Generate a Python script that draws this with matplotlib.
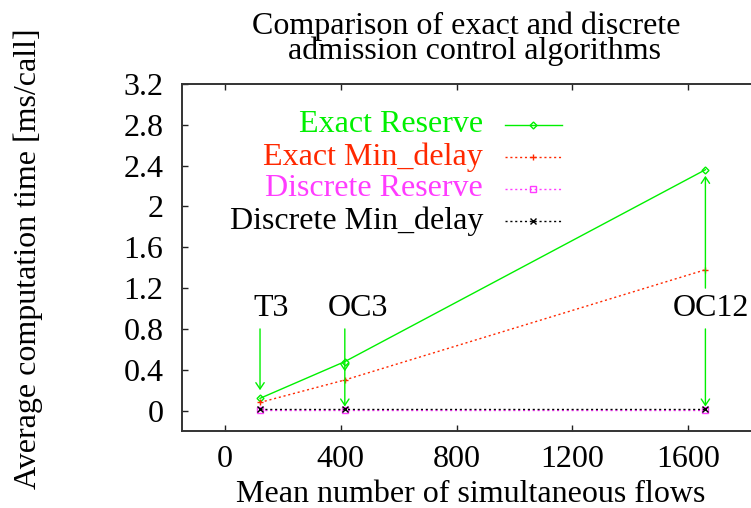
import matplotlib
matplotlib.use("Agg")
import matplotlib.pyplot as plt

plt.rcParams['font.family'] = ['Liberation Serif', 'DejaVu Serif']

# data: link types and mean number of flows
links = ["T3", "OC3", "OC12"]
flows = [121, 414, 1660]

exact_reserve = [0.12, 0.48, 2.36]
exact_min_delay = [0.08, 0.30, 1.38]
discrete_reserve = [0.01, 0.01, 0.01]
discrete_min_delay = [0.012, 0.012, 0.012]

series_names = ["Exact Reserve", "Exact Min_delay", "Discrete Reserve", "Discrete Min_delay"]
series_values = [exact_reserve, exact_min_delay, discrete_reserve, discrete_min_delay]

colors = ["#00f000", "#ff2800", "#ff3cff", "#000000"]
styles = ["-", (0, (1.5, 2)), (0, (1.5, 2)), (0, (1.5, 2))]
markers = ["D", "+", "s", "x"]
msizes = [3.5, 5, 4.5, 4.5]

FS = 23
W, H = 751, 508
fig = plt.figure(figsize=(W / 100, H / 100), dpi=100)

# axes box in pixels (right border is cut off by the figure edge, as in the original)
left_px, top_px, bottom_px = 181.6, 84, 431
right_px = 803.8
ax = fig.add_axes([left_px / W, 1 - bottom_px / H, (right_px - left_px) / W, (bottom_px - top_px) / H])

for name, vals, c, ls, m, ms in zip(series_names, series_values, colors, styles, markers, msizes):
    mfc = "none" if m in ("D", "s") else c
    ax.plot(flows, vals, color=c, linestyle=ls, lw=1, marker=m, ms=ms,
            mfc=mfc, mec=c, mew=1)

ax.set_xlim(-150, 2000)
ax.set_ylim(-0.2, 3.2)
ax.set_xticks([0, 400, 800, 1200, 1600])
ax.set_yticks([0, 0.4, 0.8, 1.2, 1.6, 2, 2.4, 2.8, 3.2])
ax.set_yticklabels(["0", "0.4", "0.8", "1.2", "1.6", "2", "2.4", "2.8", "3.2"])
ax.tick_params(axis='both', direction='in', length=4, width=1, labelsize=FS,
               top=True, right=True, colors="#222222", labelcolor="black")
ax.tick_params(axis='x', pad=10)
ax.tick_params(axis='y', pad=13)
for s in ax.spines.values():
    s.set_linewidth(1.4)
    s.set_color("#333333")

# link labels and arrows
arrow_kw = dict(arrowstyle="->,head_length=0.45,head_width=0.3", color="#00f000",
                lw=1, shrinkA=0, shrinkB=0, mutation_scale=10)
label_pos = [(159, 1.0), (460, 1.0), (1680, 1.0)]
for name, (lx, ly) in zip(links, label_pos):
    ax.text(lx, ly, name, fontsize=FS, ha="center", va="center")

ax.annotate("", xy=(flows[0], 0.2), xytext=(flows[0], 0.8), arrowprops=arrow_kw)
ax.annotate("", xy=(flows[1], 0.385), xytext=(flows[1], 0.8), arrowprops=arrow_kw)
ax.annotate("", xy=(flows[1], 0.04), xytext=(flows[1], 0.4), arrowprops=arrow_kw)
ax.annotate("", xy=(flows[2], 2.3), xytext=(flows[2], 1.2), arrowprops=arrow_kw)
ax.annotate("", xy=(flows[2], 0.04), xytext=(flows[2], 0.8), arrowprops=arrow_kw)

# legend, gnuplot style: right-aligned text, sample on the right
def px_to_ax(px, py):
    return (px - left_px) / (right_px - left_px), (bottom_px - py) / (bottom_px - top_px)

row_y = [125, 157, 189, 221]
for name, ry, c, ls, m, ms in zip(series_names, row_y, colors, styles, markers, msizes):
    tx, ty = px_to_ax(483, ry)
    ax.text(tx, ty, name, color=c, fontsize=FS, ha="right", va="center", transform=ax.transAxes)
    x0, _ = px_to_ax(505, ry)
    x1, _ = px_to_ax(562, ry)
    xm, _ = px_to_ax(533, ry)
    ax.plot([x0, x1], [ty, ty], color=c, linestyle=ls, lw=1, transform=ax.transAxes, clip_on=False)
    mfc = "none" if m in ("D", "s") else c
    ax.plot([xm], [ty], marker=m, ms=ms, mfc=mfc, mec=c, mew=1, transform=ax.transAxes, clip_on=False)

fig.text(466 / W, 1 - 39 / H, "Comparison of exact and discrete\n  admission control algorithms",
         fontsize=FS, ha="center", va="center", multialignment="center", linespacing=0.78)
fig.text(471 / W, 1 - 495 / H, "Mean number of simultaneous flows", fontsize=FS, ha="center", va="center")
fig.text(28 / W, 1 - 259 / H, "Average computation time [ms/call]", fontsize=FS,
         ha="center", va="center", rotation=90)

fig.savefig("out.png", dpi=100)
